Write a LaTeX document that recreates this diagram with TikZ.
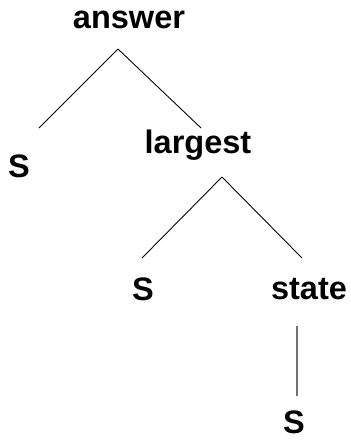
\documentclass[tikz,border=0pt]{standalone}
\usepackage{fontspec}
\setmainfont{Liberation Sans}
\usetikzlibrary{positioning}

\begin{document}
\begin{tikzpicture}[x=0.02cm, y=-0.02cm, semithick]
        \tikzstyle{word}=[font=\bfseries\fontsize{18.5}{20}\selectfont, inner sep=0pt, anchor=base]
        \tikzstyle{branch}=[draw=black, line width=0.5pt]
        \useasboundingbox (0,0) rectangle (351,441);

        \node[word] (answer) at (129,28) {answer};
        \node[word] (S1) at (19,177) {S};
        \node[word] (largest) at (198,153) {largest};
        \node[word] (S2) at (143,300) {S};
        \node[word] (state) at (309,299) {state};
        \node[word] (S3) at (294,433) {S};

        % joints of the branches
        \coordinate (answer-j) at (118,49);
        \coordinate (S1-j) at (39,128);
        \coordinate (largest-in) at (201,128);
        \coordinate (largest-j) at (222,177);
        \coordinate (S2-j) at (142,258);
        \coordinate (state-in) at (302,258);
        \coordinate (state-j) at (297,326);
        \coordinate (S3-j) at (297,396);

        \path[branch] (answer-j) edge (S1-j)
                                 edge (largest-in)
                      (largest-j) edge (S2-j)
                                  edge (state-in);
        \draw[branch, draw=black!55, line width=0.7pt] (state-j) -- (S3-j);
\end{tikzpicture}
\end{document}
